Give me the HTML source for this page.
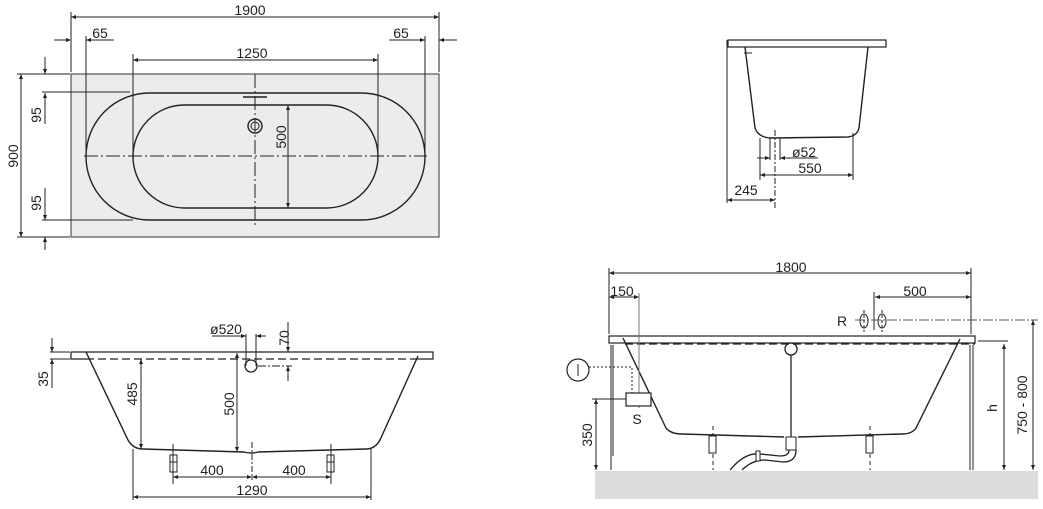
<!DOCTYPE html>
<html><head><meta charset="utf-8"><style>
html,body{margin:0;padding:0;background:#fff}
svg{display:block}
text{font-family:"Liberation Sans",sans-serif;font-size:14px;fill:#222}
</style></head><body>
<svg width="1043" height="509" viewBox="0 0 1043 509" xmlns="http://www.w3.org/2000/svg">
<defs>
<marker id="a" viewBox="0 0 10 10" refX="10" refY="5" markerWidth="7" markerHeight="5" orient="auto-start-reverse"><path d="M0,1 L10,5 L0,9z" fill="#222"/></marker>
</defs>
<g stroke="#222" stroke-width="1" fill="none">
<!-- TOP PLAN -->
<rect x="71" y="74" width="368" height="163" fill="#ececec" stroke="#333"/>
<rect x="86" y="93" width="339" height="127" rx="63.5" stroke-width="1.4"/>
<rect x="133" y="105" width="245" height="103" rx="51.5" stroke-width="1.4"/>
<line x1="84" y1="156" x2="427" y2="156" stroke-dasharray="14,3,2,3"/>
<line x1="255" y1="74" x2="255" y2="225" stroke-dasharray="14,3,2,3"/>
<circle cx="255" cy="126" r="7" stroke-width="1.4"/><circle cx="255" cy="126" r="4"/>
<line x1="243" y1="97" x2="267" y2="97" stroke-width="1.5"/>
<!-- dims -->
<line x1="71" y1="17" x2="439" y2="17" marker-start="url(#a)" marker-end="url(#a)"/>
<line x1="71" y1="12" x2="71" y2="72"/><line x1="439" y1="12" x2="439" y2="72"/>
<line x1="54" y1="40" x2="71" y2="40" marker-end="url(#a)"/><line x1="86" y1="40" x2="114" y2="40" marker-start="url(#a)"/>
<line x1="86" y1="36" x2="86" y2="150"/>
<line x1="389" y1="40" x2="425" y2="40" marker-end="url(#a)"/><line x1="439" y1="40" x2="457" y2="40" marker-start="url(#a)"/>
<line x1="425" y1="36" x2="425" y2="150"/>
<line x1="133" y1="60" x2="378" y2="60" marker-start="url(#a)" marker-end="url(#a)"/>
<line x1="133" y1="54" x2="133" y2="155"/><line x1="378" y1="54" x2="378" y2="155"/>
<line x1="21" y1="74" x2="21" y2="237" marker-start="url(#a)" marker-end="url(#a)"/>
<line x1="17" y1="74" x2="70" y2="74"/><line x1="17" y1="237" x2="70" y2="237"/>
<line x1="45" y1="57" x2="45" y2="74" marker-end="url(#a)"/>
<line x1="45" y1="93" x2="45" y2="124" marker-start="url(#a)"/>
<line x1="45" y1="188" x2="45" y2="220" marker-end="url(#a)"/>
<line x1="45" y1="237" x2="45" y2="250" marker-start="url(#a)"/>
<line x1="42" y1="92" x2="130" y2="92"/><line x1="42" y1="220" x2="133" y2="220"/>
<line x1="288" y1="105" x2="288" y2="208" marker-start="url(#a)" marker-end="url(#a)"/>

<!-- SIDE VIEW LEFT -->
<path d="M71,352 H433 V359 H418 M71,352 V359 H86" stroke-width="1.2"/>
<path d="M86,352 L128,440 Q133,449 143,449 L244,452 Q251,454 258,452 L366,449 Q375,449 380,440 L418,356" stroke-width="1.4"/>
<line x1="86" y1="359" x2="418" y2="359" stroke-dasharray="8,4" stroke-width="1.2"/>
<line x1="50" y1="352" x2="70" y2="352"/><line x1="50" y1="359" x2="70" y2="359"/>
<line x1="52" y1="338" x2="52" y2="352" marker-end="url(#a)"/><line x1="52" y1="359" x2="52" y2="388" marker-start="url(#a)"/>
<line x1="141" y1="359" x2="141" y2="449" marker-start="url(#a)" marker-end="url(#a)"/>
<line x1="237" y1="353" x2="237" y2="452" marker-start="url(#a)" marker-end="url(#a)"/>
<circle cx="251" cy="366" r="6" stroke-width="1.3"/>
<line x1="246" y1="334" x2="246" y2="366"/><line x1="256" y1="334" x2="256" y2="366"/>
<line x1="212" y1="336" x2="246" y2="336" marker-end="url(#a)"/><line x1="256" y1="336" x2="266" y2="336" marker-start="url(#a)"/>
<line x1="258" y1="366" x2="292" y2="366" stroke-dasharray="8,2,2,2"/>
<line x1="288" y1="322" x2="288" y2="352" marker-end="url(#a)"/><line x1="288" y1="366" x2="288" y2="381" marker-start="url(#a)"/>
<line x1="252" y1="442" x2="252" y2="480" stroke-dasharray="6,2,2,2"/>
<rect x="170" y="455" width="7" height="17" fill="#fff"/><line x1="170" y1="462" x2="177" y2="462"/>
<rect x="327" y="455" width="7" height="17" fill="#fff"/><line x1="327" y1="462" x2="334" y2="462"/>
<line x1="173" y1="444" x2="173" y2="484"/><line x1="331" y1="444" x2="331" y2="484"/>
<line x1="173" y1="477" x2="252" y2="477" marker-start="url(#a)" marker-end="url(#a)"/>
<line x1="252" y1="477" x2="331" y2="477" marker-start="url(#a)" marker-end="url(#a)"/>
<line x1="133" y1="449" x2="133" y2="500"/><line x1="371" y1="449" x2="371" y2="500"/>
<line x1="133" y1="497" x2="371" y2="497" marker-start="url(#a)" marker-end="url(#a)"/>

<!-- END VIEW -->
<rect x="728" y="40" width="158" height="7" stroke-width="1.2"/>
<path d="M745,47 L755,128 Q758,137 770,138 L848,137 Q857,136 859,128 L868,47" stroke-width="1.4"/>
<line x1="747" y1="47" x2="866" y2="47" stroke-dasharray="6,3"/>
<line x1="744" y1="53" x2="752" y2="53"/>
<line x1="727" y1="40" x2="727" y2="203"/>
<line x1="775" y1="130" x2="775" y2="208" stroke-dasharray="6,2,2,2"/>
<line x1="770" y1="138" x2="770" y2="160"/><line x1="780" y1="138" x2="780" y2="160"/>
<line x1="760" y1="138" x2="760" y2="180"/><line x1="853" y1="133" x2="853" y2="180"/>
<line x1="757" y1="158" x2="770" y2="158" marker-end="url(#a)"/><line x1="780" y1="158" x2="818" y2="158" marker-start="url(#a)"/>
<line x1="760" y1="175" x2="853" y2="175" marker-start="url(#a)" marker-end="url(#a)"/>
<line x1="727" y1="200" x2="775" y2="200" marker-start="url(#a)" marker-end="url(#a)"/>

<!-- SIDE VIEW RIGHT -->
<rect x="595" y="471" width="443" height="28" fill="#dcdcdc" stroke="none"/>
<rect x="609" y="336" width="366" height="7" stroke-width="1.2"/>
<path d="M623,338 L666,428 Q671,434 682,434 L784,437 M798,437 L902,434 Q912,434 916,428 L960,339" stroke-width="1.4"/>
<line x1="625" y1="344" x2="975" y2="344" stroke-dasharray="8,4" stroke-width="1.2"/>
<line x1="978" y1="341" x2="1008" y2="341"/>
<path d="M611,345 V456 M613,345 V456 M970,345 V470 M973,345 V470" />
<line x1="611" y1="345" x2="611" y2="470"/>
<circle cx="791" cy="349" r="6" stroke-width="1.3"/>
<line x1="791" y1="355" x2="791" y2="437" stroke-width="1.3"/>
<rect x="786" y="437" width="10" height="13" fill="#fff"/>
<path d="M789,450 Q789,456 780,456 L760,454 Q745,452 730,470 M796,450 Q796,462 783,462 L765,460 Q752,460 742,470" stroke-width="1.3"/>
<rect x="756" y="451" width="4" height="10" fill="#fff"/>
<line x1="713" y1="426" x2="713" y2="470" stroke-dasharray="4,3"/>
<rect x="709" y="436" width="7" height="17" fill="#fff"/>
<line x1="870" y1="426" x2="870" y2="470" stroke-dasharray="4,3"/>
<rect x="866" y="436" width="7" height="17" fill="#fff"/>
<line x1="609" y1="268" x2="609" y2="334"/><line x1="971" y1="268" x2="971" y2="334"/>
<line x1="609" y1="273" x2="971" y2="273" marker-start="url(#a)" marker-end="url(#a)"/>
<line x1="609" y1="297" x2="639" y2="297" marker-start="url(#a)" marker-end="url(#a)"/>
<line x1="639" y1="293" x2="639" y2="408" stroke="#777"/>
<line x1="874" y1="292" x2="874" y2="330"/>
<line x1="875" y1="297" x2="971" y2="297" marker-start="url(#a)" marker-end="url(#a)"/>
<ellipse cx="864" cy="321" rx="4" ry="7"/><ellipse cx="882" cy="321" rx="4" ry="7"/>
<line x1="855" y1="320" x2="1038" y2="320" stroke-dasharray="10,2,2,2" stroke="#555"/>
<line x1="864" y1="310" x2="864" y2="332" stroke-dasharray="3,2"/><line x1="882" y1="310" x2="882" y2="332" stroke-dasharray="3,2"/>
<circle cx="578" cy="370" r="11" stroke-width="1.2"/><line x1="578" y1="364" x2="578" y2="376"/>
<path d="M589,367 H632 V393" stroke-dasharray="2,2"/>
<rect x="626" y="393" width="25" height="13" stroke-width="1.2" fill="#fff"/>
<line x1="592" y1="399" x2="626" y2="399"/>
<line x1="596" y1="399" x2="596" y2="470" marker-start="url(#a)" marker-end="url(#a)"/>
<line x1="1004" y1="344" x2="1004" y2="470" marker-start="url(#a)" marker-end="url(#a)"/>
<line x1="1033" y1="320" x2="1033" y2="470" marker-start="url(#a)" marker-end="url(#a)"/>
</g>
<g>
<text x="250" y="15" text-anchor="middle">1900</text>
<text x="100" y="38" text-anchor="middle">65</text>
<text x="401" y="38" text-anchor="middle">65</text>
<text x="252" y="58" text-anchor="middle">1250</text>
<text transform="translate(18,156) rotate(-90)" text-anchor="middle">900</text>
<text transform="translate(41,115) rotate(-90)" text-anchor="middle">95</text>
<text transform="translate(41,203) rotate(-90)" text-anchor="middle">95</text>
<text transform="translate(286,137) rotate(-90)" text-anchor="middle">500</text>
<text transform="translate(48,379) rotate(-90)" text-anchor="middle">35</text>
<text transform="translate(137,394) rotate(-90)" text-anchor="middle">485</text>
<text transform="translate(234,404) rotate(-90)" text-anchor="middle">500</text>
<text x="226" y="334" text-anchor="middle">ø520</text>
<text transform="translate(289,338) rotate(-90)" text-anchor="middle">70</text>
<text x="212" y="475" text-anchor="middle">400</text>
<text x="294" y="475" text-anchor="middle">400</text>
<text x="252" y="495" text-anchor="middle">1290</text>
<text x="804" y="157" text-anchor="middle">ø52</text>
<text x="810" y="173" text-anchor="middle">550</text>
<text x="746" y="195" text-anchor="middle">245</text>
<text x="791" y="272" text-anchor="middle">1800</text>
<text x="622" y="296" text-anchor="middle">150</text>
<text x="915" y="296" text-anchor="middle">500</text>
<text x="842" y="326" text-anchor="middle">R</text>
<text x="637" y="424" text-anchor="middle">S</text>
<text transform="translate(592,435) rotate(-90)" text-anchor="middle">350</text>
<text transform="translate(997,408) rotate(-90)" text-anchor="middle">h</text>
<text transform="translate(1027,405) rotate(-90)" text-anchor="middle">750 - 800</text>
</g>
</svg>
</body></html>
